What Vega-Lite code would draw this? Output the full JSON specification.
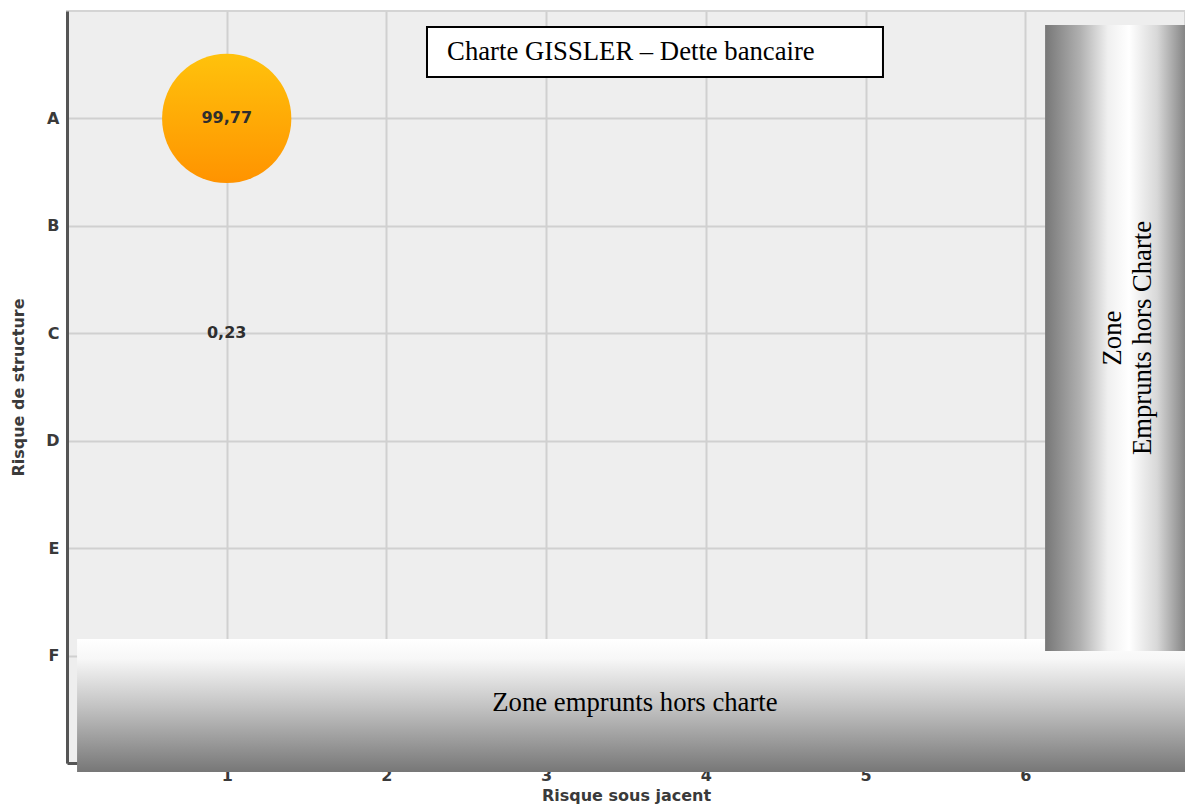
{
  "$schema": "https://vega.github.io/schema/vega-lite/v6.json",
  "width": 1118,
  "height": 752,
  "autosize": {"type": "none"},
  "padding": {"left": 67, "top": 11, "right": 0, "bottom": 44},
  "background": "white",
  "config": {
    "locale": {"number": {"decimal": ",", "thousands": " ", "grouping": [3], "currency": ["", " €"]}},
    "view": {"fill": "#eeeeee", "stroke": "#d4d4d4", "strokeWidth": 2},
    "axis": {
      "labelFont": "DejaVu Sans", "labelFontSize": 16, "labelFontWeight": "bold", "labelColor": "#3a3a3a",
      "titleFont": "DejaVu Sans", "titleFontSize": 16, "titleFontWeight": "bold", "titleColor": "#3a3a3a",
      "gridColor": "#d0d0d0", "gridWidth": 2, "gridOpacity": 1,
      "domainColor": "#555555", "domainWidth": 3, "ticks": false
    }
  },
  "datasets": {
    "gissler": [
      {"risque_sous_jacent": 1, "risque_structure": 1, "classe": "1A", "encours_pct": 99.77},
      {"risque_sous_jacent": 1, "risque_structure": 3, "classe": "1C", "encours_pct": 0.23}
    ]
  },
  "layer": [
    {
      "data": {"name": "gissler"},
      "transform": [{"filter": "datum.encours_pct > 1"}],
      "mark": {
        "type": "point", "shape": "circle", "filled": true, "opacity": 1, "clip": false,
        "fill": {"gradient": "linear", "x1": 0, "y1": 0, "x2": 0, "y2": 1,
          "stops": [{"offset": 0, "color": "#ffc20c"}, {"offset": 1, "color": "#ff9300"}]}
      },
      "encoding": {
        "x": {"field": "risque_sous_jacent", "type": "quantitative",
          "scale": {"domain": [0, 7], "nice": false, "zero": false},
          "axis": {"values": [1, 2, 3, 4, 5, 6], "format": "d", "title": "Risque sous jacent", "labelPadding": 4, "titlePadding": 4}},
        "y": {"field": "risque_structure", "type": "quantitative",
          "scale": {"domain": [0, 7], "nice": false, "zero": false, "reverse": true},
          "axis": {"values": [1, 2, 3, 4, 5, 6], "labelExpr": "['','A','B','C','D','E','F'][datum.value]",
            "title": "Risque de structure", "labelPadding": 8, "titlePadding": 19}},
        "size": {"field": "encours_pct", "type": "quantitative",
          "scale": {"domain": [0, 100], "range": [0, 16750], "zero": true}, "legend": null}
      }
    },
    {
      "data": {"name": "gissler"},
      "mark": {"type": "text", "font": "DejaVu Sans", "fontSize": 16, "fontWeight": "bold", "color": "#2e2e2e", "align": "center", "baseline": "middle"},
      "encoding": {
        "x": {"field": "risque_sous_jacent", "type": "quantitative"},
        "y": {"field": "risque_structure", "type": "quantitative"},
        "text": {"field": "encours_pct", "type": "quantitative", "format": ".2f"}
      }
    },
    {
      "data": {"values": [{"zone": "Charte GISSLER – Dette bancaire"}]},
      "mark": {"type": "rect", "fill": "white", "stroke": "black", "strokeWidth": 2, "clip": false},
      "encoding": {
        "x": {"datum": 2.254, "type": "quantitative"}, "x2": {"datum": 5.109},
        "y": {"datum": 0.149, "type": "quantitative"}, "y2": {"datum": 0.614}
      }
    },
    {
      "data": {"values": [{"zone": "Charte GISSLER – Dette bancaire"}]},
      "mark": {"type": "text", "font": "Liberation Serif", "fontSize": 26.7, "color": "black", "align": "left", "baseline": "middle"},
      "encoding": {
        "x": {"datum": 2.38, "type": "quantitative"},
        "y": {"datum": 0.382, "type": "quantitative"},
        "text": {"field": "zone"}
      }
    },
    {
      "data": {"values": [{"zone": "Zone emprunts hors charte"}]},
      "mark": {"type": "rect", "clip": false,
        "fill": {"gradient": "linear", "x1": 0, "y1": 0, "x2": 0, "y2": 1,
          "stops": [{"offset": 0, "color": "#ffffff"}, {"offset": 0.15, "color": "#f7f7f7"}, {"offset": 0.5, "color": "#c4c4c4"}, {"offset": 1, "color": "#777777"}]}},
      "encoding": {
        "x": {"datum": 0.063, "type": "quantitative"}, "x2": {"datum": 7.0},
        "y": {"datum": 5.846, "type": "quantitative"}, "y2": {"datum": 7.084}
      }
    },
    {
      "data": {"values": [{"zone": "Zone emprunts hors charte"}]},
      "mark": {"type": "text", "font": "Liberation Serif", "fontSize": 26.7, "color": "black", "align": "center", "baseline": "middle", "clip": false},
      "encoding": {
        "x": {"datum": 3.556, "type": "quantitative"},
        "y": {"datum": 6.44, "type": "quantitative"},
        "text": {"field": "zone"}
      }
    },
    {
      "data": {"values": [{"zone": ["Zone", "Emprunts hors Charte"]}]},
      "mark": {"type": "rect", "clip": false,
        "fill": {"gradient": "linear", "x1": 0, "y1": 0, "x2": 1, "y2": 0,
          "stops": [{"offset": 0, "color": "#777777"}, {"offset": 0.25, "color": "#b0b0b0"}, {"offset": 0.45, "color": "#f0f0f0"},
            {"offset": 0.6, "color": "#ffffff"}, {"offset": 0.8, "color": "#d8d8d8"}, {"offset": 1, "color": "#858585"}]}},
      "encoding": {
        "x": {"datum": 6.124, "type": "quantitative"}, "x2": {"datum": 7.0},
        "y": {"datum": 0.13, "type": "quantitative"}, "y2": {"datum": 5.957}
      }
    },
    {
      "data": {"values": [{"zone": ["Zone", "Emprunts hors Charte"]}]},
      "mark": {"type": "text", "font": "Liberation Serif", "fontSize": 26.7, "color": "black", "align": "center", "baseline": "middle", "angle": 270, "lineHeight": 30, "clip": false},
      "encoding": {
        "x": {"datum": 6.549, "type": "quantitative"},
        "y": {"datum": 3.044, "type": "quantitative"},
        "text": {"field": "zone"}
      }
    }
  ]
}
